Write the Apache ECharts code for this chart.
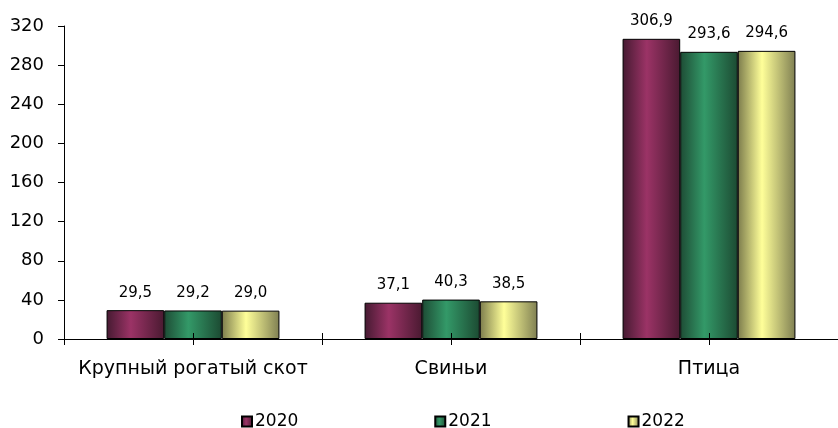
<!DOCTYPE html>
<html>
<head>
<meta charset="utf-8">
<script src="https://cdn.jsdelivr.net/npm/echarts@6/dist/echarts.min.js"></script>
<style>
  html, body { margin: 0; padding: 0; background: #fff; }
  #chart { width: 838px; height: 428px; }
</style>
</head>
<body>
<div id="chart"></div>
<script>
var categories = ['Крупный рогатый скот', 'Свиньи', 'Птица'];
var years = ['2020', '2021', '2022'];
var values2020 = [29.5, 37.1, 306.9];
var values2021 = [29.2, 40.3, 293.6];
var values2022 = [29.0, 38.5, 294.6];

var FONT = 'DejaVu Sans';

function grad(edgeL, mid, edgeR) {
  return new echarts.graphic.LinearGradient(0, 0, 1, 0, [
    { offset: 0, color: edgeL },
    { offset: 0.42, color: mid },
    { offset: 1, color: edgeR }
  ]);
}

var colors = [
  grad('#451a31', '#9b3366', '#4a1a31'),
  grad('#1e4c35', '#339968', '#1c4a32'),
  grad('#7c7c4c', '#ffff99', '#7f7f52')
];

function makeSeries(name, data, idx) {
  return {
    name: name,
    type: 'bar',
    data: data,
    barGap: '0%',
    barCategoryGap: '33%',
    itemStyle: { color: colors[idx], borderColor: '#000', borderWidth: 1 },
    label: {
      show: true,
      position: 'top',
      distance: 10,
      color: '#000',
      fontFamily: FONT,
      fontSize: 15,
      formatter: function (p) { return p.value.toFixed(1).replace('.', ','); }
    }
  };
}

var chart = echarts.init(document.getElementById('chart'));
chart.setOption({
  animation: false,
  textStyle: { fontFamily: FONT },
  grid: { left: 64, top: 26, width: 774, height: 313 },
  legend: {
    data: years,
    left: 241,
    top: 413,
    padding: 0,
    itemWidth: 10,
    itemHeight: 10,
    itemGap: 136,
    icon: 'rect',
    textStyle: { fontFamily: FONT, fontSize: 17, color: '#000', padding: [0, 0, 0, -2] }
  },
  xAxis: [
    {
      type: 'category',
      data: categories,
      axisLine: { lineStyle: { color: '#000', width: 1 } },
      axisTick: { show: false },
      axisLabel: { color: '#000', fontFamily: FONT, fontSize: 19, margin: 21, interval: 0 }
    },
    {
      type: 'category',
      data: ['', '', '', '', '', ''],
      position: 'bottom',
      offset: -6,
      z: 10,
      axisLine: { show: false },
      axisTick: { show: true, length: 12, lineStyle: { color: '#000' } },
      axisLabel: { show: false }
    }
  ],
  yAxis: {
    type: 'value',
    min: 0,
    max: 320,
    interval: 40,
    splitLine: { show: false },
    axisLine: { show: true, lineStyle: { color: '#000' } },
    axisTick: { show: true, length: 6, lineStyle: { color: '#000' } },
    axisLabel: { color: '#000', fontFamily: FONT, fontSize: 18, margin: 20 }
  },
  series: [
    makeSeries(years[0], values2020, 0),
    makeSeries(years[1], values2021, 1),
    makeSeries(years[2], values2022, 2)
  ]
});
</script>
</body>
</html>
